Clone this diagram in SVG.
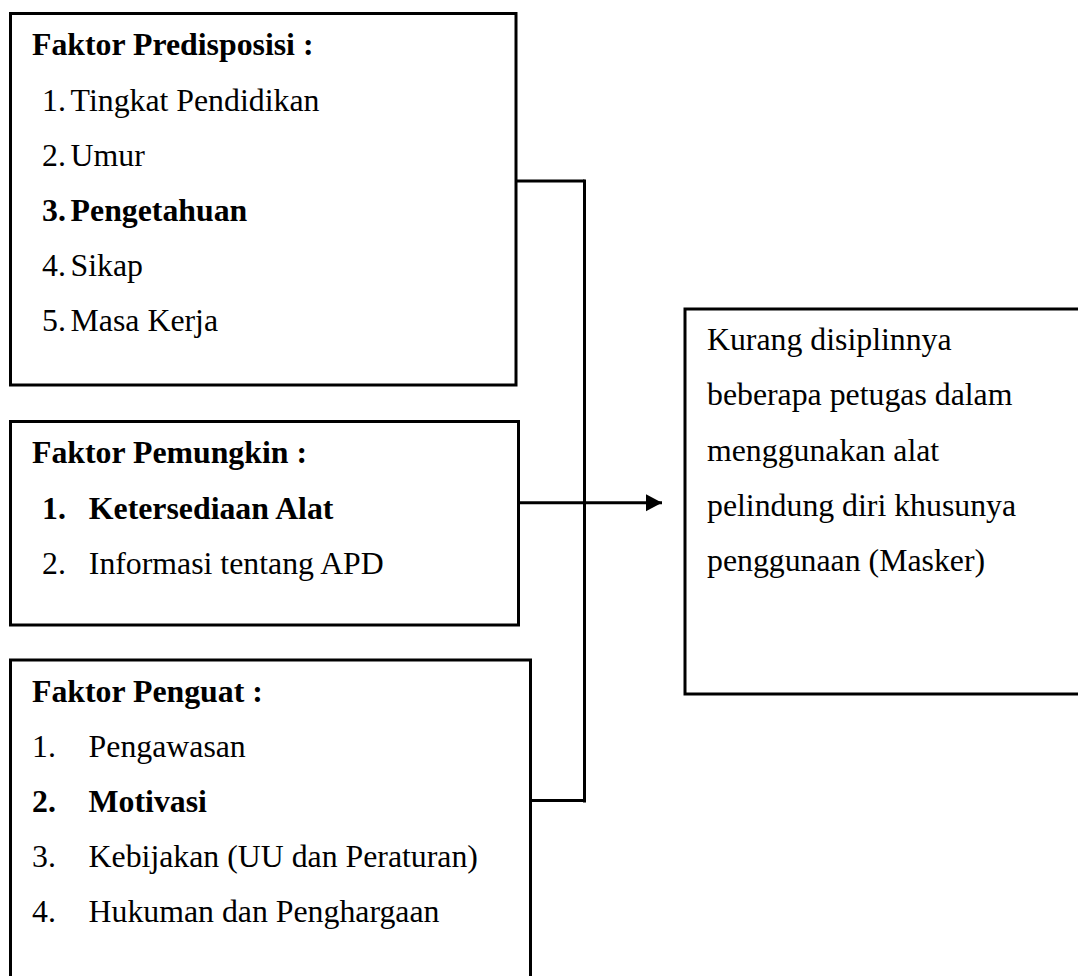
<svg xmlns="http://www.w3.org/2000/svg" width="1078" height="976" viewBox="0 0 1078 976">
<style>
.box{fill:#fff;stroke:#000;stroke-width:3}
.t{font-family:"Liberation Serif","Times New Roman",serif;font-size:31.8px;fill:#000}
.b{font-weight:bold}
.c{fill:none;stroke:#000;stroke-width:3}
</style>
<defs>
<marker id="arr" markerUnits="userSpaceOnUse" markerWidth="18" markerHeight="18" refX="16" refY="9" orient="auto">
<path d="M0,0.5 L16,9 L0,17.5 Z" fill="#000"/>
</marker>
</defs>
<rect width="1078" height="976" fill="#fff"/>
<g id="predisposisi">
<rect class="box" x="10.5" y="13.5" width="505.5" height="371.5"/>
<text class="t b" x="32" y="55">Faktor Predisposisi :</text>
<text class="t" y="110.5"><tspan x="42">1.</tspan><tspan x="70.6">Tingkat Pendidikan</tspan></text>
<text class="t" y="165.5"><tspan x="42">2.</tspan><tspan x="70.6">Umur</tspan></text>
<text class="t b" y="220.5"><tspan x="42">3.</tspan><tspan x="70.6">Pengetahuan</tspan></text>
<text class="t" y="275.5"><tspan x="42">4.</tspan><tspan x="70.6">Sikap</tspan></text>
<text class="t" y="330.5"><tspan x="42">5.</tspan><tspan x="70.6">Masa Kerja</tspan></text>
</g>
<g id="pemungkin">
<rect class="box" x="10.5" y="421.5" width="508" height="203.5"/>
<text class="t b" x="32" y="463">Faktor Pemungkin :</text>
<text class="t b" y="519"><tspan x="42">1.</tspan><tspan x="88.8">Ketersediaan Alat</tspan></text>
<text class="t" y="574"><tspan x="42">2.</tspan><tspan x="88.8">Informasi tentang APD</tspan></text>
</g>
<g id="penguat">
<rect class="box" x="10.5" y="660" width="520" height="330"/>
<text class="t b" x="32" y="701.7">Faktor Penguat :</text>
<text class="t" y="756.7"><tspan x="32">1.</tspan><tspan x="88.6">Pengawasan</tspan></text>
<text class="t b" y="811.7"><tspan x="32">2.</tspan><tspan x="88.6">Motivasi</tspan></text>
<text class="t" y="866.7"><tspan x="32">3.</tspan><tspan x="88.6">Kebijakan (UU dan Peraturan)</tspan></text>
<text class="t" y="921.7"><tspan x="32">4.</tspan><tspan x="88.6">Hukuman dan Penghargaan</tspan></text>
</g>
<g id="hasil">
<rect class="box" x="685" y="309" width="420" height="385"/>
<text class="t" x="707" y="349.5">Kurang disiplinnya</text>
<text class="t" x="707" y="405">beberapa petugas dalam</text>
<text class="t" x="707" y="460.5">menggunakan alat</text>
<text class="t" x="707" y="516">pelindung diri khusunya</text>
<text class="t" x="707" y="571">penggunaan (Masker)</text>
</g>
<g id="connectors">
<path class="c" d="M516,181 H584.5"/>
<path class="c" d="M584.5,179.5 V802.5"/>
<path class="c" d="M530.5,800.5 H584.5"/>
<path class="c" d="M518.5,502.7 H662" marker-end="url(#arr)"/>
</g>
</svg>
